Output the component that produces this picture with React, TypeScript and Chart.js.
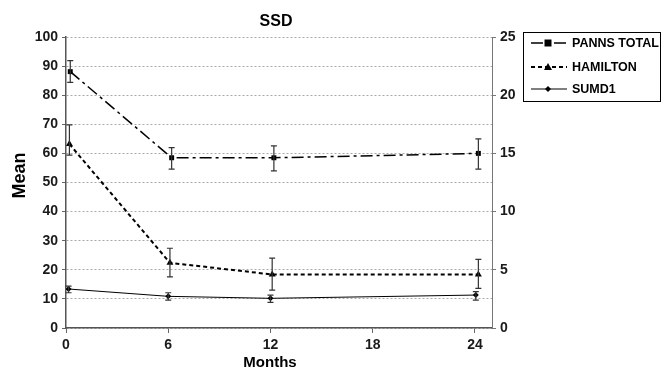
import React, { useEffect, useRef } from "react";
import { Chart, registerables } from "chart.js";

Chart.register(...registerables);

const FONT = "'Liberation Sans', Arial, Helvetica, sans-serif";

const chartTitle = "SSD";
const xTitle = "Months";
const yTitle = "Mean";
const seriesNames = ["PANNS TOTAL", "HAMILTON", "SUMD1"];
const xTickValues = [0, 6, 12, 18, 24];

// PANNS TOTAL (left axis)
const pannsX = [0.25, 6.2, 12.2, 24.2];
const pannsMean = [88.1, 58.5, 58.5, 60];
const pannsLow = [84.4, 54.6, 54, 54.6];
const pannsHigh = [91.9, 62, 62.6, 65];

// HAMILTON (right axis)
const hamX = [0.2, 6.1, 12.1, 24.2];
const hamMean = [15.8, 5.6, 4.6, 4.6];
const hamLow = [14.85, 4.4, 3.25, 3.4];
const hamHigh = [17.45, 6.85, 6.0, 5.9];

// SUMD1 (right axis)
const sumdX = [0.15, 6.0, 12.0, 24.05];
const sumdMean = [3.35, 2.72, 2.55, 2.83];
const sumdLow = [3.03, 2.4, 2.2, 2.4];
const sumdHigh = [3.6, 3.03, 2.83, 3.12];

const toPoints = (xs: number[], ys: number[]) => xs.map((x, i) => ({ x, y: ys[i] }));

const errorBars: Record<number, { x: number[]; low: number[]; high: number[] }> = {
  0: { x: pannsX, low: pannsLow, high: pannsHigh },
  1: { x: hamX, low: hamLow, high: hamHigh },
  2: { x: sumdX, low: sumdLow, high: sumdHigh },
};

const styles = [
  { dash: [12, 4, 3, 4], width: 1.5, point: "rect", radius: 3.5 },
  { dash: [4, 3], width: 2, point: "triangle", radius: 4 },
  { dash: [], width: 1, point: "rectRot", radius: 3 },
];

const errorBarPlugin = {
  id: "errorBars",
  afterDatasetsDraw(chart: any) {
    const ctx = chart.ctx;
    const xs = chart.scales.x;
    chart.data.datasets.forEach((ds: any, di: number) => {
      const eb = errorBars[di];
      if (!eb) return;
      const ys = chart.scales[ds.yAxisID];
      ctx.save();
      ctx.strokeStyle = "#333";
      ctx.lineWidth = 1.2;
      ctx.setLineDash([]);
      eb.x.forEach((xv, i) => {
        const px = xs.getPixelForValue(xv);
        const lo = ys.getPixelForValue(eb.low[i]);
        const hi = ys.getPixelForValue(eb.high[i]);
        ctx.beginPath();
        ctx.moveTo(px, lo);
        ctx.lineTo(px, hi);
        ctx.moveTo(px - 3, lo);
        ctx.lineTo(px + 3, lo);
        ctx.moveTo(px - 3, hi);
        ctx.lineTo(px + 3, hi);
        ctx.stroke();
      });
      ctx.restore();
    });
  },
};

const drawMarker = (ctx: CanvasRenderingContext2D, style: string, x: number, y: number, r: number) => {
  ctx.beginPath();
  if (style === "rect") {
    ctx.rect(x - r, y - r, 2 * r, 2 * r);
  } else if (style === "triangle") {
    ctx.moveTo(x, y - r);
    ctx.lineTo(x + r, y + r * 0.75);
    ctx.lineTo(x - r, y + r * 0.75);
    ctx.closePath();
  } else {
    ctx.moveTo(x, y - r);
    ctx.lineTo(x + r, y);
    ctx.lineTo(x, y + r);
    ctx.lineTo(x - r, y);
    ctx.closePath();
  }
  ctx.fill();
};

const decorPlugin = {
  id: "decor",
  afterDraw(chart: any) {
    const ctx = chart.ctx;
    const ca = chart.chartArea;
    ctx.save();
    ctx.fillStyle = "#000";
    ctx.textAlign = "center";
    ctx.textBaseline = "middle";
    ctx.font = `bold 16px ${FONT}`;
    ctx.fillText(chartTitle, (ca.left + ca.right) / 2 - 3, 22);
    ctx.font = `bold 15px ${FONT}`;
    ctx.fillText(xTitle, (ca.left + ca.right) / 2 - 9, 363);
    ctx.save();
    ctx.translate(20, (ca.top + ca.bottom) / 2 - 7);
    ctx.rotate(-Math.PI / 2);
    ctx.font = `bold 18px ${FONT}`;
    ctx.fillText(yTitle, 0, 0);
    ctx.restore();

    // legend
    const bx = ca.right + 31;
    const by = ca.top - 5;
    const bw = 137;
    const bh = 69;
    ctx.strokeStyle = "#000";
    ctx.lineWidth = 1;
    ctx.strokeRect(bx + 0.5, by + 0.5, bw, bh);
    const rows = [by + 11, by + 35, by + 57];
    seriesNames.forEach((name, i) => {
      const st = styles[i];
      const y = rows[i];
      ctx.save();
      ctx.strokeStyle = "#000";
      ctx.lineWidth = st.width;
      ctx.setLineDash(st.dash);
      ctx.beginPath();
      ctx.moveTo(bx + 8, y);
      ctx.lineTo(bx + 44, y);
      ctx.stroke();
      ctx.setLineDash([]);
      ctx.fillStyle = "#000";
      drawMarker(ctx, st.point, bx + 25, y, st.radius);
      ctx.restore();
      ctx.fillStyle = "#000";
      ctx.textAlign = "left";
      ctx.textBaseline = "middle";
      ctx.font = `bold 12.5px ${FONT}`;
      ctx.fillText(name, bx + 49, y + 1);
    });
    ctx.restore();
  },
};

const tickFont = { family: FONT, size: 14, weight: "bold" as const };

export default function App() {
  const ref = useRef<HTMLCanvasElement | null>(null);
  useEffect(() => {
    document.body.style.margin = "0";
    if (!ref.current) return;
    const chart = new Chart(ref.current, {
      type: "scatter",
      data: {
        datasets: [
          { label: seriesNames[0], data: toPoints(pannsX, pannsMean), yAxisID: "y" },
          { label: seriesNames[1], data: toPoints(hamX, hamMean), yAxisID: "y1" },
          { label: seriesNames[2], data: toPoints(sumdX, sumdMean), yAxisID: "y1" },
        ].map((d, i) => ({
          ...d,
          showLine: true,
          borderColor: "#000",
          backgroundColor: "#000",
          borderWidth: styles[i].width,
          borderDash: styles[i].dash,
          pointStyle: styles[i].point as any,
          pointRadius: styles[i].radius,
          pointBorderWidth: 0,
          pointBackgroundColor: "#000",
          pointBorderColor: "#000",
        })),
      },
      options: {
        animation: false,
        responsive: false,
        maintainAspectRatio: false,
        layout: { padding: { left: 0, right: 139, top: 37, bottom: 0 } },
        plugins: { legend: { display: false }, title: { display: false }, tooltip: { enabled: false } },
        scales: {
          x: {
            type: "linear",
            min: 0,
            max: 25,
            afterBuildTicks: (s: any) => {
              s.ticks = xTickValues.map((v) => ({ value: v }));
            },
            afterFit: (s: any) => {
              s.height = 45;
            },
            grid: { drawOnChartArea: false, tickLength: 5, tickColor: "#666", color: "#666" },
            border: { color: "#555", width: 1.5 },
            ticks: { color: "#1a1a1a", font: tickFont, padding: 4, maxRotation: 0 },
          },
          y: {
            position: "left",
            min: 0,
            max: 100,
            afterFit: (s: any) => {
              s.width = 66;
            },
            grid: { color: "#aaa", tickColor: "#666", tickLength: 4, tickBorderDash: [] },
            border: { color: "#555", width: 1.5, dash: [2, 2] },
            ticks: { stepSize: 10, color: "#1a1a1a", font: tickFont, padding: 4 },
          },
          y1: {
            position: "right",
            min: 0,
            max: 25,
            afterFit: (s: any) => {
              s.width = 30;
            },
            grid: { drawOnChartArea: false, tickColor: "#777", tickLength: 4 },
            border: { color: "#777", width: 1 },
            ticks: { stepSize: 5, color: "#1a1a1a", font: tickFont, padding: 4 },
          },
        },
      },
      plugins: [errorBarPlugin, decorPlugin],
    });
    return () => chart.destroy();
  }, []);
  return (
    <div style={{ width: 661, height: 373, background: "#fff" }}>
      <canvas ref={ref} width={661} height={373} />
    </div>
  );
}
